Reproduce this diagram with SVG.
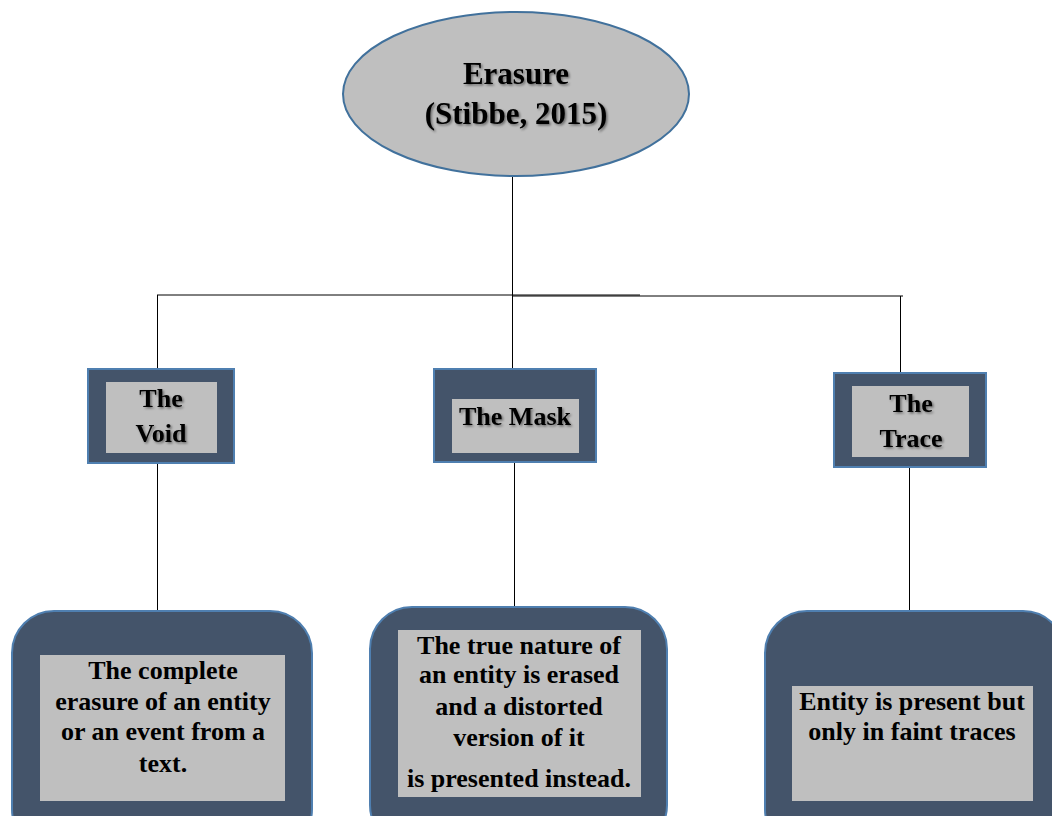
<svg xmlns="http://www.w3.org/2000/svg" width="1052" height="816" viewBox="0 0 1052 816">
<defs>
<filter id="sh" x="-10%" y="-20%" width="120%" height="140%">
<feDropShadow dx="1.5" dy="1.5" stdDeviation="0.8" flood-color="#000" flood-opacity="0.45"/>
</filter>
<style>
.t{font-family:"Liberation Serif","Times New Roman",serif;font-weight:bold;fill:#000;text-anchor:middle}
.ttl{font-size:31px}
.lbl{font-size:26px}
.outer{fill:#44546a;stroke:#4f7fb0;stroke-width:2}
.inner{fill:#bfbfbf;stroke:none}
.con{stroke:#000;stroke-width:1;fill:none}
</style>
</defs>
<rect width="1052" height="816" fill="#fff"/>
<g id="connectors">
<line class="con" x1="512.5" y1="177" x2="512.5" y2="296"/>
<line class="con" x1="157" y1="295" x2="640" y2="295" stroke="#444" stroke-width="1.3"/>
<line class="con" x1="513" y1="296" x2="903" y2="296"/>
<line class="con" x1="157.5" y1="295" x2="157.5" y2="369"/>
<line class="con" x1="512.5" y1="296" x2="512.5" y2="369"/>
<line class="con" x1="900.5" y1="296" x2="900.5" y2="373"/>
<line class="con" x1="157.5" y1="463" x2="157.5" y2="611"/>
<line class="con" x1="514.5" y1="462" x2="514.5" y2="607"/>
<line class="con" x1="909.5" y1="467" x2="909.5" y2="611"/>
</g>
<g id="erasure">
<ellipse cx="516" cy="94" rx="173" ry="82" fill="#bfbfbf" stroke="#41719c" stroke-width="2"/>
<g filter="url(#sh)">
<text class="t ttl" x="516" y="84">Erasure</text>
<text class="t ttl" x="516" y="124">(Stibbe, 2015)</text>
</g>
</g>
<g id="void">
<rect class="outer" x="88" y="369" width="146" height="94"/>
<rect class="inner" x="106" y="382" width="111" height="71"/>
<g filter="url(#sh)">
<text class="t lbl" x="161" y="407">The</text>
<text class="t lbl" x="161" y="442">Void</text>
</g>
</g>
<g id="mask">
<rect class="outer" x="434" y="369" width="162" height="93"/>
<rect class="inner" x="452" y="399" width="127" height="54"/>
<g filter="url(#sh)">
<text class="t lbl" x="515" y="425">The Mask</text>
</g>
</g>
<g id="trace">
<rect class="outer" x="834" y="373" width="152" height="94"/>
<rect class="inner" x="852" y="386" width="117" height="71"/>
<g filter="url(#sh)">
<text class="t lbl" x="911" y="412">The</text>
<text class="t lbl" x="911" y="447">Trace</text>
</g>
</g>
<g id="void-desc">
<rect class="outer" x="12" y="611" width="300" height="240" rx="42" ry="42"/>
<rect class="inner" x="40" y="655" width="245" height="146"/>
<text class="t lbl" x="163" y="679">The complete</text>
<text class="t lbl" x="163" y="710">erasure of an entity</text>
<text class="t lbl" x="163" y="740">or an event from a</text>
<text class="t lbl" x="163" y="772">text.</text>
</g>
<g id="mask-desc">
<rect class="outer" x="370" y="607" width="297" height="240" rx="42" ry="42"/>
<rect class="inner" x="398" y="630" width="243" height="167"/>
<text class="t lbl" x="519" y="654">The true nature of</text>
<text class="t lbl" x="519" y="683">an entity is erased</text>
<text class="t lbl" x="519" y="715">and a distorted</text>
<text class="t lbl" x="519" y="746">version of it</text>
<text class="t lbl" x="519" y="787">is presented instead.</text>
</g>
<g id="trace-desc">
<rect class="outer" x="765" y="611" width="300" height="240" rx="42" ry="42"/>
<rect class="inner" x="792" y="686" width="241" height="115"/>
<text class="t lbl" x="912" y="710">Entity is present but</text>
<text class="t lbl" x="912" y="740">only in faint traces</text>
</g>
</svg>
